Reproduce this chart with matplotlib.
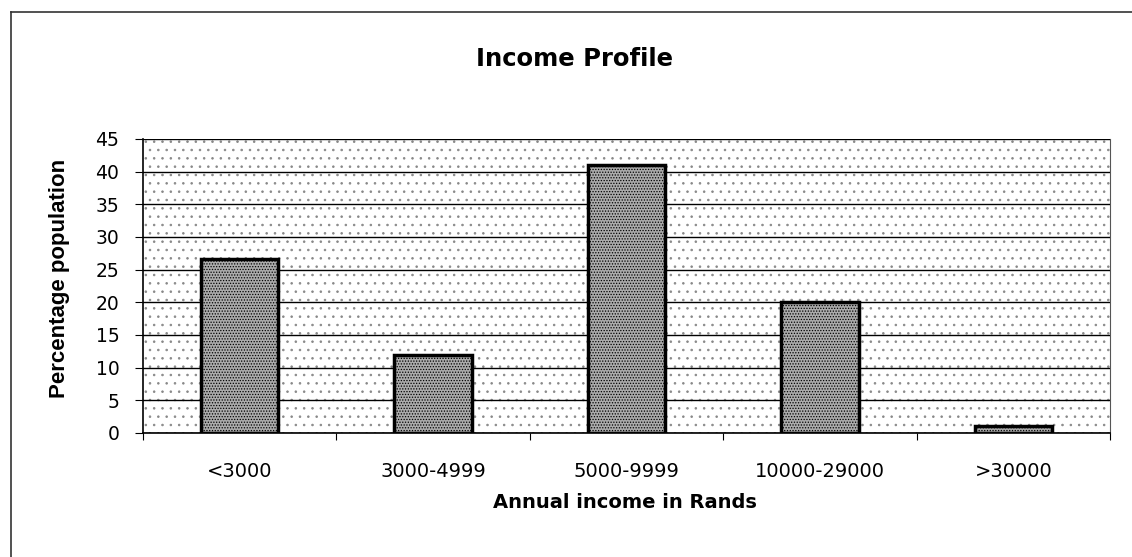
import numpy as np
import matplotlib.pyplot as plt
from matplotlib.patches import Rectangle
from matplotlib.lines import Line2D

plt.rcParams['font.family'] = ['DejaVu Sans']

categories = ['<3000', '3000-4999', '5000-9999', '10000-29000', '>30000']
percent = [26.7, 12, 41, 20, 1]
yticks = [0, 5, 10, 15, 20, 25, 30, 35, 40, 45]

W, H = 1132, 557
fig = plt.figure(figsize=(W / 100, H / 100), dpi=100)
ax = fig.add_axes([143 / W, 1 - 433 / H, 967 / W, 294 / H])

# stippled plot area
plt.rcParams['hatch.linewidth'] = 0.6
plt.rcParams['hatch.color'] = '#777777'
ax.add_patch(Rectangle((0, 0), 1, 1, transform=ax.transAxes, facecolor='white',
                       hatch='..', edgecolor='#888888', linewidth=0, zorder=0))

x = np.arange(len(categories))
ax.yaxis.grid(True, color='black', linewidth=1.0, zorder=1)
ax.set_axisbelow(False)
plt.rcParams['hatch.color'] = '#2a2a2a'
bars = ax.bar(x, percent, width=0.40, facecolor='#ababab', edgecolor='black',
              linewidth=2.5, zorder=3)
for b in bars:
    b.set_hatch('......')

ax.set_xlim(-0.5, len(categories) - 0.5)
ax.set_ylim(0, 45)
ax.set_yticks(yticks)
ax.set_xticks(x)
ax.set_xticklabels(categories, fontsize=14)
ax.tick_params(axis='x', length=0, pad=21)
ax.set_xticks(np.arange(-0.5, len(categories)), minor=True)
ax.tick_params(axis='x', which='minor', length=5, width=0.8, direction='out')
ax.tick_params(axis='y', labelsize=13.5, length=6, width=0.8, direction='out', pad=11)

ax.spines['top'].set_visible(False)
ax.spines['left'].set_linewidth(1.2)
ax.spines['bottom'].set_linewidth(1.2)
ax.spines['right'].set_linewidth(0.8)
ax.spines['right'].set_color('#555555')

ax.set_ylabel('Percentage population', fontsize=16, fontweight='bold',
              family=['Liberation Sans', 'DejaVu Sans'])
ax.yaxis.set_label_coords(70 / W, 0.5, transform=fig.transFigure)
fig.text(625 / W, 1 - 503 / H, 'Annual income in Rands', ha='center', va='center',
         fontsize=14, fontweight='bold')
fig.text(575 / W, 1 - 59 / H, 'Income Profile', ha='center', va='center',
         fontsize=17.5, fontweight='bold')

# outer chart border (left and top edges)
fig.add_artist(Line2D([11 / W, 11 / W], [0, 1 - 12 / H], transform=fig.transFigure,
                      color='#333333', linewidth=1.2))
fig.add_artist(Line2D([11 / W, 1], [1 - 12 / H, 1 - 12 / H], transform=fig.transFigure,
                      color='#333333', linewidth=1.2))

fig.savefig('out.png', dpi=100)
